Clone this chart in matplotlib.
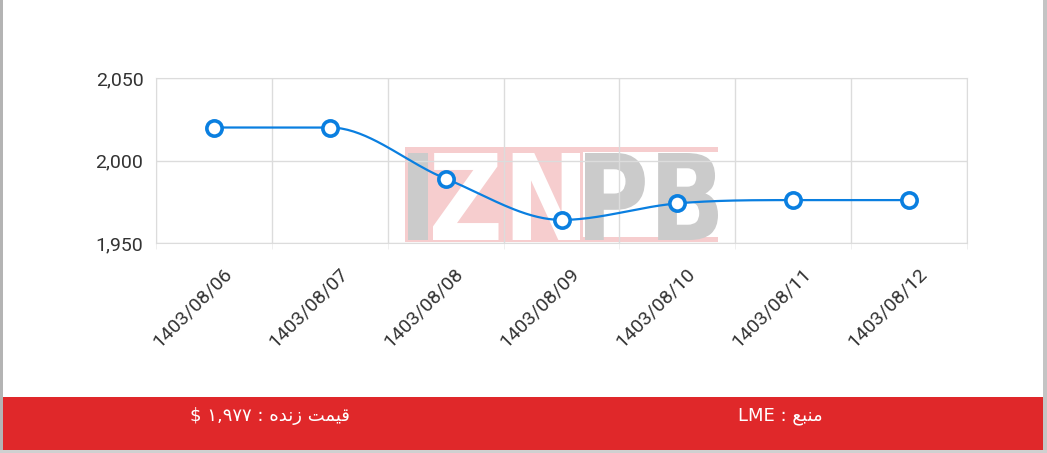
import numpy as np
import matplotlib
matplotlib.use('Agg')
from matplotlib import pyplot as plt
from matplotlib.patches import Rectangle, PathPatch
from matplotlib.textpath import TextPath
from matplotlib.font_manager import FontProperties
from matplotlib.ticker import FuncFormatter
import matplotlib.transforms as mtransforms

dates = ['1403/08/06', '1403/08/07', '1403/08/08', '1403/08/09',
         '1403/08/10', '1403/08/11', '1403/08/12']
prices = [2020, 2020, 1989, 1964, 1974, 1976, 1976]
y_ticks = [1950, 2000, 2050]

# persian captions, pre-shaped glyphs in visual order (matplotlib does no shaping)
price_label = '$ \u06f1,\u06f9\u06f7\u06f7 : \ufee9\ufeaa\ufee7\ufeaf \ufe96\ufee4\ufbff\ufed7'
source_label = 'LME : \ufeca\ufe92\ufee8\ufee3'

blue = '#0a7fe0'
grid_c = '#dcdcdc'
red = '#e0282a'

plt.rcParams['font.family'] = ['Roboto', 'DejaVu Sans']

fig = plt.figure(figsize=(10.47, 4.53), dpi=100)
W, H = 1047, 453

# background layer in pixel coords (frame strips, footer, watermark)
bg = fig.add_axes([0, 0, 1, 1], zorder=0)
bg.set_xlim(0, W)
bg.set_ylim(H, 0)
bg.axis('off')
bg.add_patch(Rectangle((0, 0), 3, H, color='#b4b4b4', lw=0))
bg.add_patch(Rectangle((W - 4, 0), 4, H, color='#c4c4c4', lw=0))
bg.add_patch(Rectangle((0, H - 3), W, 3, color='#d0d0d0', lw=0))
bg.add_patch(Rectangle((3, 397), W - 7, 53, color=red, lw=0))


def letters(txt, x0, x1, y0, y1, color):
    tp = TextPath((0, 0), txt, size=100, prop=FontProperties(family='DejaVu Sans', weight='bold'))
    ext = tp.get_extents()
    sx = (x1 - x0) / ext.width
    sy = (y1 - y0) / ext.height
    tr = mtransforms.Affine2D().translate(-ext.x0, -ext.y0).scale(sx, -sy).translate(x0, y1)
    bg.add_patch(PathPatch(tr.transform_path(tp), color=color, lw=0))


pink = '#f6cdce'
gray = '#cbcbcb'
bg.add_patch(Rectangle((405, 147), 313, 5, color=pink, lw=0))
bg.add_patch(Rectangle((405, 237), 313, 5, color=pink, lw=0))
bg.add_patch(Rectangle((405, 152), 178, 85, color=pink, lw=0))
letters('I', 408, 428, 153, 240, gray)
letters('ZN', 433, 580, 153, 240, 'white')
letters('PB', 585, 718, 153, 240, gray)

bg.text(270, 416, price_label, color='white', fontsize=13, ha='center', va='center',
        family=['DejaVu Sans'])
bg.text(780, 416, source_label, color='white', fontsize=13, ha='center', va='center',
        family=['DejaVu Sans'])

ax = fig.add_axes([156 / W, 1 - 243 / H, (967 - 156) / W, (243 - 78) / H], zorder=2)
ax.set_facecolor('none')

x = np.arange(len(prices))
y = np.array(prices, dtype=float)

# monotone cubic curve through the points (like chart.js 'monotone')
d = np.diff(y) / np.diff(x)
m = np.zeros_like(y)
m[0], m[-1] = d[0], d[-1]
for k in range(1, len(y) - 1):
    m[k] = 0 if d[k - 1] * d[k] <= 0 else (d[k - 1] + d[k]) / 2
for k in range(len(d)):
    if d[k] == 0:
        m[k] = m[k + 1] = 0
    else:
        a, b = m[k] / d[k], m[k + 1] / d[k]
        s = a * a + b * b
        if s > 9:
            t = 3 / np.sqrt(s)
            m[k], m[k + 1] = t * a * d[k], t * b * d[k]
xs, ys = [], []
for k in range(len(d)):
    h = x[k + 1] - x[k]
    t = np.linspace(0, 1, 40)
    h00 = 2 * t ** 3 - 3 * t ** 2 + 1
    h10 = t ** 3 - 2 * t ** 2 + t
    h01 = -2 * t ** 3 + 3 * t ** 2
    h11 = t ** 3 - t ** 2
    xs.append(x[k] + t * h)
    ys.append(h00 * y[k] + h10 * h * m[k] + h01 * y[k + 1] + h11 * h * m[k + 1])
ax.plot(np.concatenate(xs), np.concatenate(ys), color=blue, lw=1.6, zorder=3)
ax.plot(x, y, 'o', ms=11, mfc='white', mec=blue, mew=2.6, zorder=4, clip_on=False)

ax.set_xlim(-0.5, len(prices) - 0.5)
ax.set_ylim(y_ticks[0], y_ticks[-1])
ax.set_yticks(y_ticks)
ax.yaxis.set_major_formatter(FuncFormatter(lambda v, p: f'{int(v):,}'))
ax.set_xticks(x)
ax.set_xticklabels(dates, rotation=45, ha='right', va='center', rotation_mode='anchor')
ax.set_xticks(np.arange(-0.5, len(prices)), minor=True)
ax.grid(True, which='minor', axis='x', color=grid_c, lw=1)
ax.grid(True, which='major', axis='y', color=grid_c, lw=1)
ax.tick_params(axis='x', which='major', length=0, pad=20, labelsize=14, labelcolor='#333333')
ax.tick_params(axis='x', which='minor', length=4, color='#ececec')
ax.tick_params(axis='y', length=0, pad=9, labelsize=14, labelcolor='#333333')
for sp in ax.spines.values():
    sp.set_color(grid_c)

off = mtransforms.ScaledTranslation(15 / 100, 0, fig.dpi_scale_trans)
for lab in ax.get_xticklabels():
    lab.set_transform(lab.get_transform() + off)

fig.savefig('out.png', dpi=100)
